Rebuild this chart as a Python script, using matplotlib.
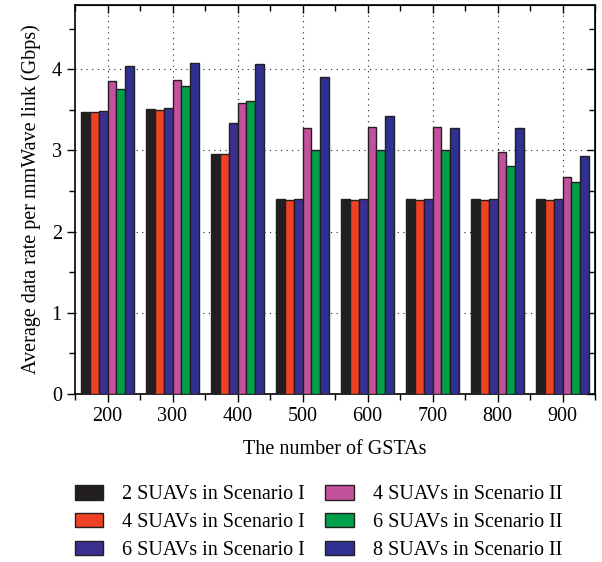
import numpy as np
import matplotlib.pyplot as plt
from matplotlib.ticker import MultipleLocator

plt.rcParams['font.family'] = ['Liberation Serif', 'DejaVu Serif']

# data
gstas = [200, 300, 400, 500, 600, 700, 800, 900]
labels = ['2 SUAVs in Scenario I', '4 SUAVs in Scenario I', '6 SUAVs in Scenario I',
          '4 SUAVs in Scenario II', '6 SUAVs in Scenario II', '8 SUAVs in Scenario II']
s1_2 = [3.47, 3.51, 2.96, 2.40, 2.40, 2.40, 2.40, 2.40]
s1_4 = [3.47, 3.50, 2.95, 2.39, 2.39, 2.39, 2.39, 2.39]
s1_6 = [3.48, 3.52, 3.34, 2.40, 2.40, 2.40, 2.40, 2.40]
s2_4 = [3.85, 3.87, 3.58, 3.28, 3.29, 3.29, 2.98, 2.67]
s2_6 = [3.75, 3.79, 3.61, 3.01, 3.01, 3.01, 2.81, 2.61]
s2_8 = [4.04, 4.07, 4.06, 3.90, 3.42, 3.27, 3.27, 2.93]
series = [s1_2, s1_4, s1_6, s2_4, s2_6, s2_8]
colors = ['#231f20', '#ef4123', '#3b2f8f', '#c4519d', '#00a04b', '#2e3192']

fs = 14.5
fig = plt.figure(figsize=(6.02, 5.62), dpi=100)
ax = fig.add_axes([75/602, 168/562, 520/602, 389/562])

w = 13.5
x = np.array(gstas)
for i, (vals, c, lab) in enumerate(zip(series, colors, labels)):
    ax.bar(x + (i - 2.5)*w, vals, width=w, color=c, edgecolor='#231f20',
           linewidth=1, label=lab, zorder=3)

ax.set_xlim(150, 950)
ax.set_ylim(0, 4.79)
ax.set_xticks(gstas)
ax.xaxis.set_minor_locator(MultipleLocator(100, offset=50))
ax.yaxis.set_major_locator(MultipleLocator(1))
ax.yaxis.set_minor_locator(MultipleLocator(0.5))
ax.tick_params(which='both', direction='out', labelsize=fs, width=1)
ax.tick_params(which='major', length=6)
ax.tick_params(which='minor', length=4)
ax.grid(True, which='major', linestyle=(0, (1, 4)), color='#231f20', linewidth=0.8)
ax.set_axisbelow(True)

top = ax.secondary_xaxis('top')
top.set_xticks(gstas)
top.xaxis.set_minor_locator(MultipleLocator(100, offset=50))
top.tick_params(which='both', direction='in', labeltop=False, width=1)
top.tick_params(which='major', length=6)
top.tick_params(which='minor', length=4)
right = ax.secondary_yaxis('right')
right.yaxis.set_major_locator(MultipleLocator(1))
right.yaxis.set_minor_locator(MultipleLocator(0.5))
right.tick_params(which='both', direction='in', labelright=False, width=1)
right.tick_params(which='major', length=6)
right.tick_params(which='minor', length=4)

for sp in ax.spines.values():
    sp.set_linewidth(1.2)

ax.set_xlabel('The number of GSTAs', fontsize=fs, labelpad=10)
ax.set_ylabel('Average data rate per mmWave link (Gbps)', fontsize=fs, labelpad=8)

fig.legend(loc='lower left', bbox_to_anchor=(61/602, -12/562), ncol=2,
           frameon=False, fontsize=fs, handlelength=1.4, handleheight=0.75,
           handletextpad=0.95, columnspacing=1.0, labelspacing=0.42,
           borderpad=0.2)

fig.savefig('out.png', dpi=100)
